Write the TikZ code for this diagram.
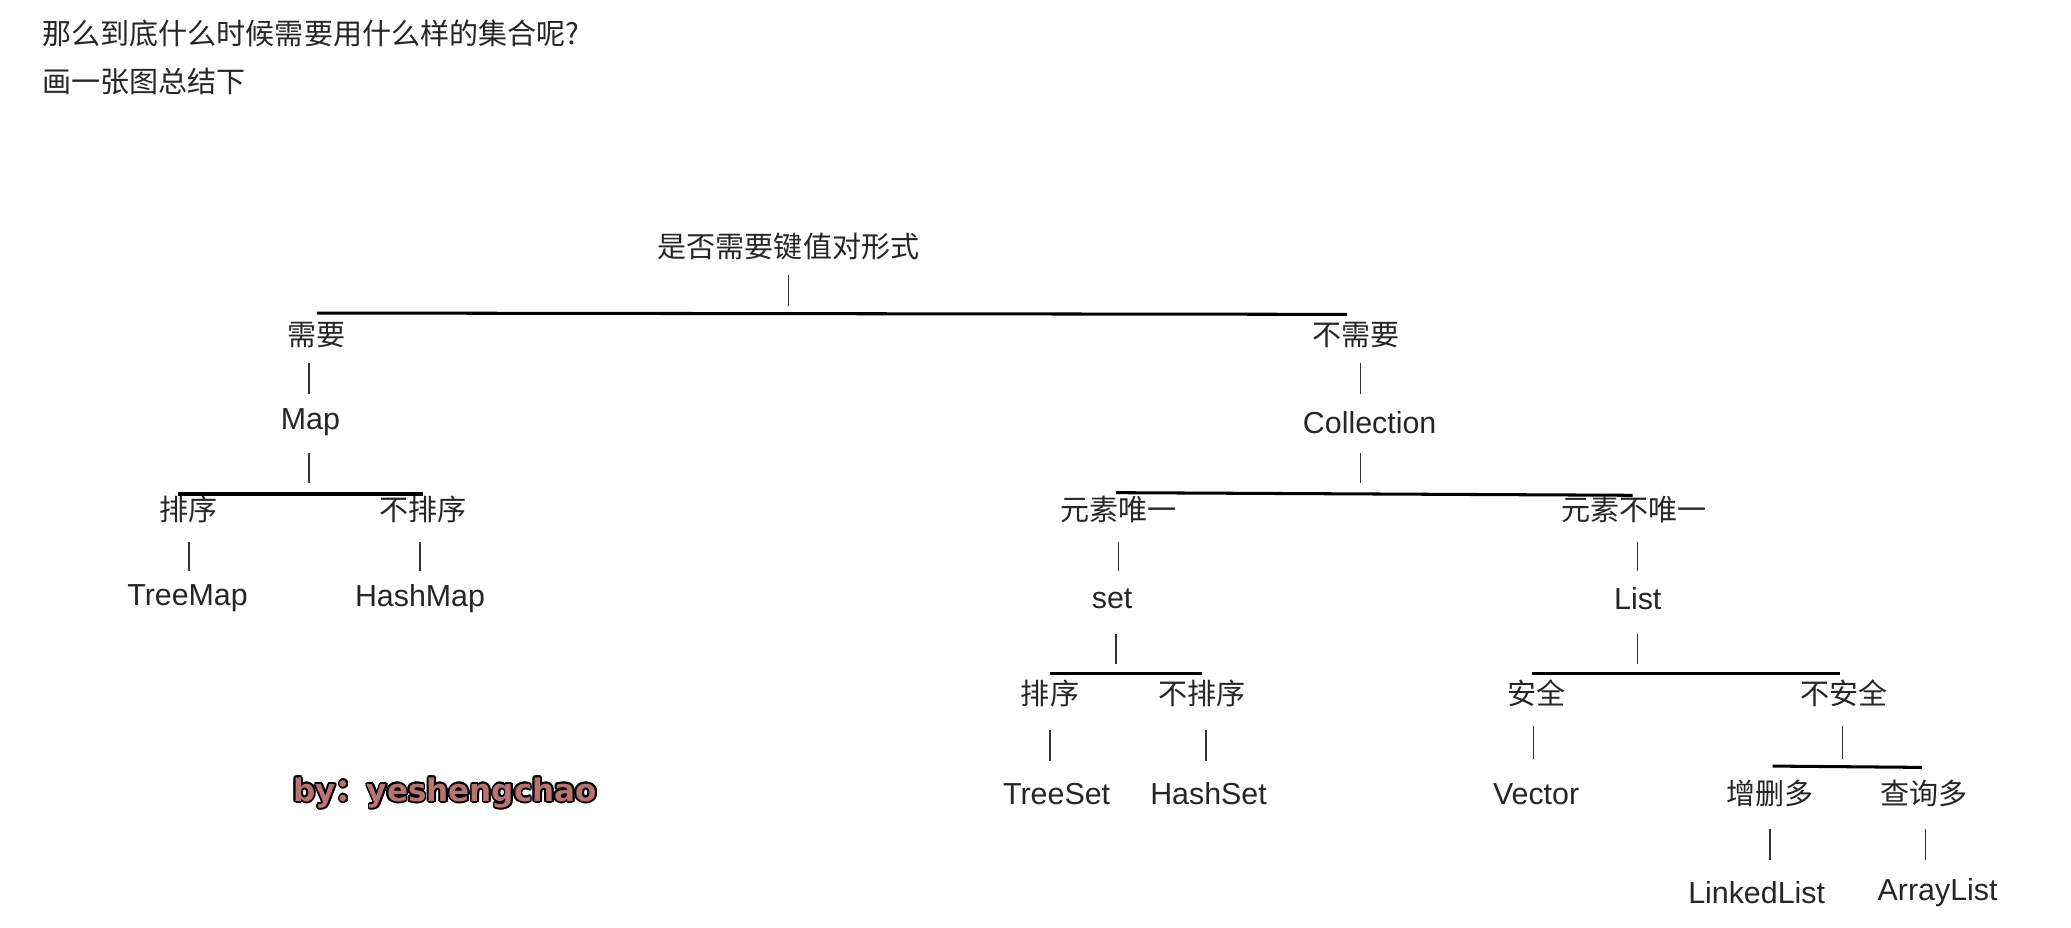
\documentclass[tikz,border=0pt]{standalone}
\usepackage{fontspec}
\setmainfont{Liberation Sans}
\newfontfamily\cjk{Noto Sans CJK SC}
\newfontfamily\djb{DejaVu Sans}[BoldFont={DejaVu Sans Bold}]
\usepackage[copies]{contour}
\contourlength{1.3pt}
\definecolor{rose}{RGB}{185,115,115}
\begin{document}
\begin{tikzpicture}[x=1pt,y=-1pt,
  t/.style={inner sep=0pt,font=\fontsize{22}{26}\selectfont\cjk,text=black!85},
  e/.style={inner sep=0pt,font=\fontsize{23}{27}\selectfont,text=black!85},
  bar/.style={draw=black!80,line width=1pt},
  hl/.style={draw=black,line width=2.3pt}]
\useasboundingbox[fill=white] (0,0) rectangle (1568,702.6);
\node[t,anchor=west] (h1) at (32,25) {那么到底什么时候需要用什么样的集合呢?};
\node[t,anchor=west] (h2) at (32,62) {画一张图总结下};
% top
\node[t] (root) at (597,187) {是否需要键值对形式};
\coordinate (r1) at (597,208); \coordinate (r2) at (597,232);
\draw[bar] (r1) -- (r2);
\coordinate (L0a) at (240,237); \coordinate (L0b) at (1020,238);
\draw[hl] (L0a) -- (L0b);
% Map branch
\node[t] (xy) at (240,254) {需要};
\node[e] (map) at (235,320) {Map};
\coordinate (a1) at (234,275); \coordinate (a2) at (234,298); \draw[bar] (a1)--(a2);
\coordinate (a3) at (234,343); \coordinate (a4) at (234,366); \draw[bar] (a3)--(a4);
\coordinate (L1a) at (135,374); \coordinate (L1b) at (320,374); \draw[hl] (L1a)--(L1b);
\node[t] (px1) at (143,386) {排序};
\node[t] (bpx1) at (320,386) {不排序};
\coordinate (b1) at (143,410); \coordinate (b2) at (143,432); \draw[bar] (b1)--(b2);
\coordinate (b3) at (318,410); \coordinate (b4) at (318,432); \draw[bar] (b3)--(b4);
\node[e] (treemap) at (142,453) {TreeMap};
\node[e] (hashmap) at (318,453) {HashMap};
% Collection branch
\node[t] (bxy) at (1027,254) {不需要};
\node[e] (coll) at (1037,320) {Collection};
\coordinate (c1) at (1030,275); \coordinate (c2) at (1030,298); \draw[bar] (c1)--(c2);
\coordinate (c3) at (1030,343); \coordinate (c4) at (1030,366); \draw[bar] (c3)--(c4);
\coordinate (L2a) at (845,373); \coordinate (L2b) at (1236,375); \draw[hl] (L2a)--(L2b);
\node[t] (wy) at (847,386) {元素唯一};
\node[t] (bwy) at (1237,386) {元素不唯一};
\coordinate (d1) at (847,410); \coordinate (d2) at (847,432); \draw[bar] (d1)--(d2);
\coordinate (d3) at (1240,410); \coordinate (d4) at (1240,432); \draw[bar] (d3)--(d4);
\node[e] (set) at (842,453) {set};
\node[e] (list) at (1240,453) {List};
\coordinate (d5) at (845,480); \coordinate (d6) at (845,503); \draw[bar] (d5)--(d6);
\coordinate (d7) at (1240,480); \coordinate (d8) at (1240,503); \draw[bar] (d7)--(d8);
% set children
\coordinate (L3a) at (795,510); \coordinate (L3b) at (910,510); \draw[hl] (L3a)--(L3b);
\node[t] (px2) at (795,525) {排序};
\node[t] (bpx2) at (910,525) {不排序};
\coordinate (f1) at (795,553); \coordinate (f2) at (795,576); \draw[bar] (f1)--(f2);
\coordinate (f3) at (913,553); \coordinate (f4) at (913,576); \draw[bar] (f3)--(f4);
\node[e] (treeset) at (800,601) {TreeSet};
\node[e] (hashset) at (915,601) {HashSet};
% list children
\coordinate (L4a) at (1160,510); \coordinate (L4b) at (1393,510); \draw[hl] (L4a)--(L4b);
\node[t] (aq) at (1163,525) {安全};
\node[t] (baq) at (1396,525) {不安全};
\coordinate (g1) at (1161,550); \coordinate (g2) at (1161,575); \draw[bar] (g1)--(g2);
\coordinate (g3) at (1395,550); \coordinate (g4) at (1395,575); \draw[bar] (g3)--(g4);
\node[e] (vector) at (1163,601) {Vector};
\coordinate (L5a) at (1342,580); \coordinate (L5b) at (1455,581); \draw[hl] (L5a)--(L5b);
\node[t] (zs) at (1340,601) {增删多};
\node[t] (cx) at (1457,601) {查询多};
\coordinate (k1) at (1340,628); \coordinate (k2) at (1340,651); \draw[bar] (k1)--(k2);
\coordinate (k3) at (1458,628); \coordinate (k4) at (1458,651); \draw[bar] (k3)--(k4);
\node[e] (ll) at (1330,676) {LinkedList};
\node[e] (al) at (1467,676) {ArrayList};
% signature
\node[inner sep=0pt,font=\fontsize{23.5}{27}\selectfont\djb\bfseries,text=rose] (sig) at (337,601) {\contour{black}{by{\cjk\bfseries ：}yeshengchao}};
\end{tikzpicture}
\end{document}
